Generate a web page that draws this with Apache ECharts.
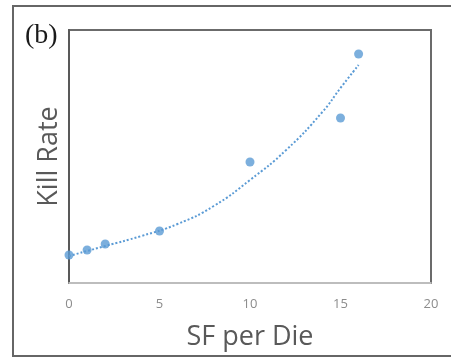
<!DOCTYPE html>
<html>
<head>
<meta charset="utf-8">
<script src="https://cdn.jsdelivr.net/npm/echarts@6/dist/echarts.min.js"></script>
<style>
  html, body { margin: 0; padding: 0; background: #fff; }
  .frame {
    position: absolute;
    left: 12px;
    top: 5px;
    width: 460px;
    height: 348px;
    border: 2px solid #666;
    border-right: none;
  }
  #chart { position: absolute; left: 0; top: 0; width: 451px; height: 360px; }
</style>
</head>
<body>
<div class="frame"></div>
<div id="chart"></div>
<script>
  // measured points (SF per die vs kill rate, arbitrary units)
  const sfPerDie = [0, 1, 2, 5, 10, 15, 16];
  const killRate = [28, 33, 39, 52, 121, 165, 229];

  // dotted trendline
  const trendX = [0, 2, 4, 6, 8, 10, 12, 14, 15, 16];
  const trendY = [27, 37, 47, 59, 77, 103, 133, 171, 195, 218];

  const xTicks = [0, 5, 10, 15, 20];

  const BLUE = '#5b9bd5';

  const chart = echarts.init(document.getElementById('chart'));

  const option = {
    animation: false,
    title: {
      text: '(b)',
      left: 20,
      top: 17,
      textStyle: {
        fontFamily: 'Liberation Serif',
        fontSize: 28,
        fontWeight: 'normal',
        color: '#1a1a1a',
      },
    },
    grid: {
      left: 69,
      right: 20,
      top: 30,
      bottom: 77,
      show: true,
      borderColor: '#6b6b6b',
      borderWidth: 2,
    },
    xAxis: {
      type: 'value',
      min: xTicks[0],
      max: xTicks[xTicks.length - 1],
      interval: 5,
      name: 'SF per Die',
      nameLocation: 'middle',
      nameGap: 41,
      nameTextStyle: {
        fontFamily: 'Open Sans',
        fontSize: 27,
        color: '#595959',
      },
      axisLine: { lineStyle: { color: '#d9d9d9', width: 1.5 } },
      axisTick: { show: false },
      splitLine: { show: false },
      axisLabel: {
        margin: 15,
        fontFamily: 'Open Sans',
        fontSize: 13,
        color: '#8c8c8c',
      },
    },
    yAxis: {
      type: 'value',
      min: 0,
      max: 253,
      name: 'Kill Rate',
      nameLocation: 'middle',
      nameGap: 6,
      nameTextStyle: {
        fontFamily: 'Open Sans',
        fontSize: 27,
        color: '#595959',
      },
      axisLine: { show: true, lineStyle: { color: '#595959', width: 2 } },
      axisTick: { show: false },
      axisLabel: { show: false },
      splitLine: { show: false },
    },
    series: [
      {
        name: 'trend',
        type: 'line',
        data: trendX.map((x, i) => [x, trendY[i]]),
        smooth: true,
        symbol: 'none',
        lineStyle: { color: BLUE, width: 2, type: [2, 2] },
        z: 1,
      },
      {
        name: 'Kill Rate',
        type: 'scatter',
        data: sfPerDie.map((x, i) => [x, killRate[i]]),
        symbolSize: 9,
        itemStyle: { color: BLUE },
        z: 3,
      },
    ],
  };

  chart.setOption(option);
</script>
</body>
</html>
